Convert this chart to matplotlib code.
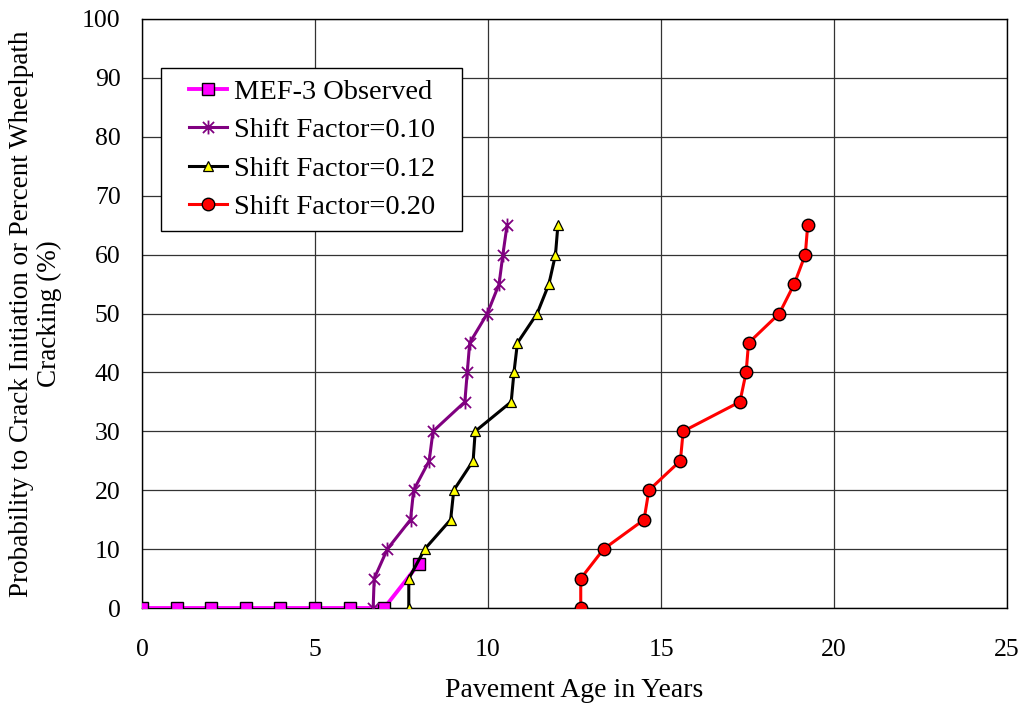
import matplotlib
matplotlib.use("Agg")
import matplotlib.pyplot as plt
from matplotlib.path import Path
from matplotlib.lines import Line2D
from matplotlib.legend_handler import HandlerLine2D

# Pavement age (years) and cracking (%) for each series
observed_age = [0, 1, 2, 3, 4, 5, 6, 7, 8]
observed_pct = [0, 0, 0, 0, 0, 0, 0, 0, 7.5]

pct_levels = [0, 5, 10, 15, 20, 25, 30, 35, 40, 45, 50, 55, 60, 65]
sf010_age = [6.68, 6.71, 7.09, 7.76, 7.85, 8.30, 8.41, 9.33, 9.40, 9.47, 9.98, 10.32, 10.43, 10.55]
sf012_age = [7.71, 7.71, 8.17, 8.92, 9.01, 9.57, 9.63, 10.67, 10.75, 10.85, 11.42, 11.76, 11.95, 12.02]
sf020_age = [12.68, 12.68, 13.34, 14.51, 14.65, 15.56, 15.64, 17.28, 17.46, 17.53, 18.42, 18.85, 19.17, 19.24]

labels = ["MEF-3 Observed", "Shift Factor=0.10", "Shift Factor=0.12", "Shift Factor=0.20"]
x_ticks = [0, 5, 10, 15, 20, 25]
y_ticks = [0, 10, 20, 30, 40, 50, 60, 70, 80, 90, 100]

plt.rcParams["font.family"] = ["Liberation Serif", "DejaVu Serif"]
plt.rcParams["font.size"] = 18.5

# asterisk marker: an X crossed by a vertical stroke
ast_verts = [(-1, -1), (1, 1), (-1, 1), (1, -1), (0, -1.25), (0, 1.25)]
ast_codes = [Path.MOVETO, Path.LINETO] * 3
asterisk = Path(ast_verts, ast_codes)

fig = plt.figure(figsize=(10.24, 7.08), dpi=100)
ax = fig.add_axes([0.1387, 0.1412, 0.8447, 0.8320])

ax.plot(observed_age, observed_pct, color="#FF00FF", lw=2.8, marker="s", ms=8.8,
        mfc="#FF00FF", mec="#000000", mew=1.0, label=labels[0], zorder=3)
ax.plot(sf010_age, pct_levels, color="#800080", lw=2.2, marker=asterisk, ms=10,
        mec="#800080", mew=1.3, label=labels[1], zorder=4)
ax.plot(sf012_age, pct_levels, color="#000000", lw=2.2, marker="^", ms=6.5,
        mfc="#FFFF00", mec="#000000", mew=0.9, label=labels[2], zorder=5)
ax.plot(sf020_age, pct_levels, color="#FF0000", lw=2.2, marker="o", ms=9,
        mfc="#FF0000", mec="#000000", mew=1.0, label=labels[3], zorder=5)

ax.set_xlim(0, 25)
ax.set_ylim(0, 100)
ax.set_xticks(x_ticks)
ax.set_yticks(y_ticks)
ax.tick_params(axis="both", length=0)
ax.tick_params(axis="x", pad=22)
ax.tick_params(axis="y", pad=15.5)
ax.grid(True, color="#333333", lw=0.9)
ax.set_axisbelow(True)
for sp in ax.spines.values():
    sp.set_color("#000000")
    sp.set_linewidth(1.0)

ax.set_xlabel("Pavement Age in Years", fontsize=20)
ax.xaxis.set_label_coords(0.5, -0.118)
ax.set_ylabel("Probability to Crack Initiation or Percent Wheelpath\nCracking (%)",
              fontsize=19.5, multialignment="center", linespacing=1.15)
ax.yaxis.set_label_coords(-0.092, 0.5)

# legend handles are indented from the frame's left edge
handler = HandlerLine2D(xpad=0.58)
leg = ax.legend(loc="upper left", bbox_to_anchor=(0.022, 0.650, 0.348, 0.267),
                mode="expand", frameon=True, fontsize=20.5,
                fancybox=False, edgecolor="#000000", framealpha=1.0,
                handlelength=1.92, handletextpad=0.25, labelspacing=0.43,
                borderpad=0.4, borderaxespad=0.0,
                handler_map={Line2D: handler})
leg.get_frame().set_linewidth(1.0)

fig.savefig("out.png", dpi=100)
